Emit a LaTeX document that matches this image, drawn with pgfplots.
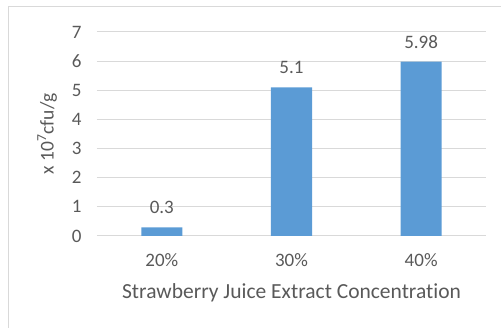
\documentclass[border=0pt]{standalone}
\usepackage{pgfplots}
\pgfplotsset{compat=1.18}
\usepackage{fontspec}
\setmainfont{Carlito}[Ligatures={NoCommon}]
\usetikzlibrary{calc}
\definecolor{barblue}{HTML}{5B9BD5}
\definecolor{txtgray}{HTML}{595959}
\definecolor{gridgray}{HTML}{D9D9D9}
\begin{document}
\begin{tikzpicture}
\begin{axis}[
  name=ax,
  scale only axis,
  width=389pt, height=204pt,
  xmin=-0.5, xmax=2.5,
  ymin=0, ymax=7,
  ytick={0,1,2,3,4,5,6,7},
  xtick=data,
  xticklabels={20\%,30\%,40\%},
  axis line style={draw=none},
  major tick length=0pt,
  ymajorgrids,
  grid style={gridgray, line width=1pt},
  ybar, bar width=41pt,
  tick label style={font=\fontsize{19}{21}\selectfont, text=txtgray},
  /pgf/number format/assume math mode=true,
  yticklabel style={xshift=-12pt},
  xticklabel style={yshift=-14pt},
  xlabel={Strawberry Juice Extract Concentration},
  ylabel={x 10\textsuperscript{7}cfu/g},
  xlabel style={font=\fontsize{21.5}{23}\selectfont, text=txtgray, yshift=-10pt},
  ylabel style={font=\fontsize{19.5}{21}\selectfont, text=txtgray, yshift=8pt},
  nodes near coords,
  every node near coord/.append style={font=\fontsize{19}{21}\selectfont, text=txtgray, yshift=10pt},
]
\addplot[fill=barblue, draw=none] coordinates {(0,0.3) (1,5.1) (2,5.98)};
\end{axis}
\draw[gridgray, line width=1pt] ($(ax.south west)+(-88pt,-100pt)$) -- ($(ax.north west)+(-88pt,25pt)$) -- ($(ax.north east)+(30pt,25pt)$);
\pgfresetboundingbox
\path ($(ax.south west)+(-97pt,-92pt)$) rectangle ($(ax.north east)+(15pt,32pt)$);
\end{tikzpicture}
\end{document}
